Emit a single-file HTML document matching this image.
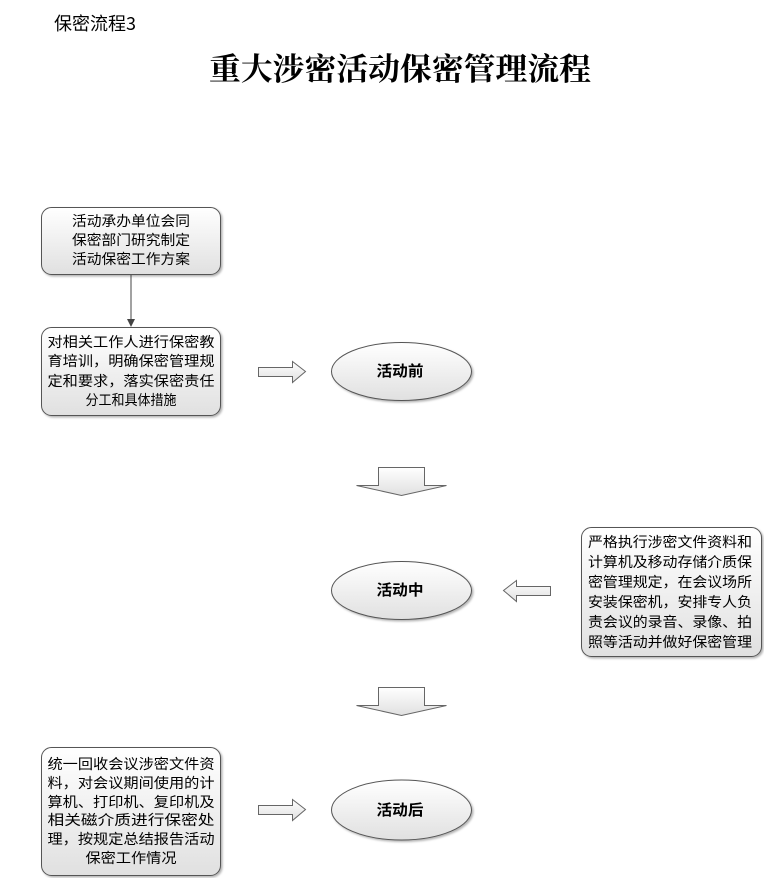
<!DOCTYPE html>
<html><head><meta charset="utf-8"><style>
html,body{margin:0;padding:0;background:#fff;}
svg{display:block;}
text{font-family:"Liberation Sans","Noto Sans CJK SC",sans-serif;fill:#000;}
</style></head><body>
<svg width="764" height="878" viewBox="0 0 764 878" xmlns="http://www.w3.org/2000/svg">
<defs>
<linearGradient id="g" x1="0" y1="0" x2="0" y2="1">
<stop offset="0" stop-color="#ffffff"/><stop offset="1" stop-color="#e0e0e0"/>
</linearGradient>
<filter id="sh" x="-10%" y="-10%" width="130%" height="130%">
<feDropShadow dx="1.5" dy="1.5" stdDeviation="1" flood-color="#000" flood-opacity="0.3"/>
</filter>
</defs>
<text x="54" y="30" font-size="18" style="font-family:'Noto Sans CJK SC',sans-serif">保密流程3</text>
<text x="400" y="80" font-size="31" font-weight="bold" text-anchor="middle" textLength="382" lengthAdjust="spacingAndGlyphs" style="font-family:'Noto Serif CJK SC',serif">重大涉密活动保密管理流程</text>

<g stroke="#555" stroke-width="1" fill="url(#g)" filter="url(#sh)">
<rect x="41.5" y="207.5" width="179" height="67" rx="10"/>
<rect x="41.5" y="327.5" width="179" height="88" rx="10"/>
<rect x="41.5" y="747.5" width="179" height="128" rx="10"/>
<rect x="581.5" y="527.5" width="180" height="129" rx="10"/>
<ellipse cx="401.5" cy="371.5" rx="70" ry="29"/>
<ellipse cx="401.5" cy="590.5" rx="70" ry="29"/>
<ellipse cx="401.5" cy="810" rx="70" ry="30"/>
</g>

<line x1="131" y1="275" x2="131" y2="320" stroke="#444" stroke-width="1"/>
<polygon points="127,319 135,319 131,327" fill="#444"/>

<g stroke="#666" stroke-width="1" fill="url(#g)">
<polygon points="258.5,367.5 292.5,367.5 292.5,361.5 305.5,371.5 292.5,382.5 292.5,376.5 258.5,376.5"/>
<polygon points="258.5,805.5 292.5,805.5 292.5,799.5 305.5,809.5 292.5,820.5 292.5,814.5 258.5,814.5"/>
<polygon points="550.5,586.5 516.5,586.5 516.5,580.5 503.5,590.5 516.5,601.5 516.5,595.5 550.5,595.5"/>
<polygon points="378.5,467.5 424.5,467.5 424.5,485.5 446.5,485.5 401.5,495.5 356.5,485.5 378.5,485.5"/>
<polygon points="378.5,687.5 424.5,687.5 424.5,705.5 446.5,705.5 401.5,715.5 356.5,705.5 378.5,705.5"/>
</g>

<g font-size="14" text-anchor="middle">
<text x="131" y="226" textLength="118" lengthAdjust="spacingAndGlyphs">活动承办单位会同</text>
<text x="131" y="245" textLength="118" lengthAdjust="spacingAndGlyphs">保密部门研究制定</text>
<text x="131" y="264" textLength="118" lengthAdjust="spacingAndGlyphs">活动保密工作方案</text>

<text x="131" y="347" textLength="167" lengthAdjust="spacingAndGlyphs">对相关工作人进行保密教</text>
<text x="131" y="366" textLength="167" lengthAdjust="spacingAndGlyphs">育培训，明确保密管理规</text>
<text x="131" y="386" textLength="167" lengthAdjust="spacingAndGlyphs">定和要求，落实保密责任</text>
<text x="131" y="405" textLength="91" lengthAdjust="spacingAndGlyphs">分工和具体措施</text>

<text x="131" y="769" textLength="167" lengthAdjust="spacingAndGlyphs">统一回收会议涉密文件资</text>
<text x="131" y="788" textLength="167" lengthAdjust="spacingAndGlyphs">料，对会议期间使用的计</text>
<text x="131" y="807" textLength="167" lengthAdjust="spacingAndGlyphs">算机、打印机、复印机及</text>
<text x="131" y="825" textLength="167" lengthAdjust="spacingAndGlyphs">相关磁介质进行保密处</text>
<text x="131" y="844" textLength="167" lengthAdjust="spacingAndGlyphs">理，按规定总结报告活动</text>
<text x="131" y="863" textLength="91" lengthAdjust="spacingAndGlyphs">保密工作情况</text>

<text x="670" y="547" textLength="164" lengthAdjust="spacingAndGlyphs">严格执行涉密文件资料和</text>
<text x="670" y="567" textLength="164" lengthAdjust="spacingAndGlyphs">计算机及移动存储介质保</text>
<text x="670" y="587" textLength="164" lengthAdjust="spacingAndGlyphs">密管理规定，在会议场所</text>
<text x="670" y="607" textLength="164" lengthAdjust="spacingAndGlyphs">安装保密机，安排专人负</text>
<text x="670" y="627" textLength="164" lengthAdjust="spacingAndGlyphs">责会议的录音、录像、拍</text>
<text x="670" y="647" textLength="164" lengthAdjust="spacingAndGlyphs">照等活动并做好保密管理</text>
</g>

<g font-size="15" font-weight="bold" text-anchor="middle">
<text x="400" y="376" textLength="47" lengthAdjust="spacingAndGlyphs">活动前</text>
<text x="400" y="595" textLength="47" lengthAdjust="spacingAndGlyphs">活动中</text>
<text x="400" y="815" textLength="47" lengthAdjust="spacingAndGlyphs">活动后</text>
</g>
</svg>
</body></html>
